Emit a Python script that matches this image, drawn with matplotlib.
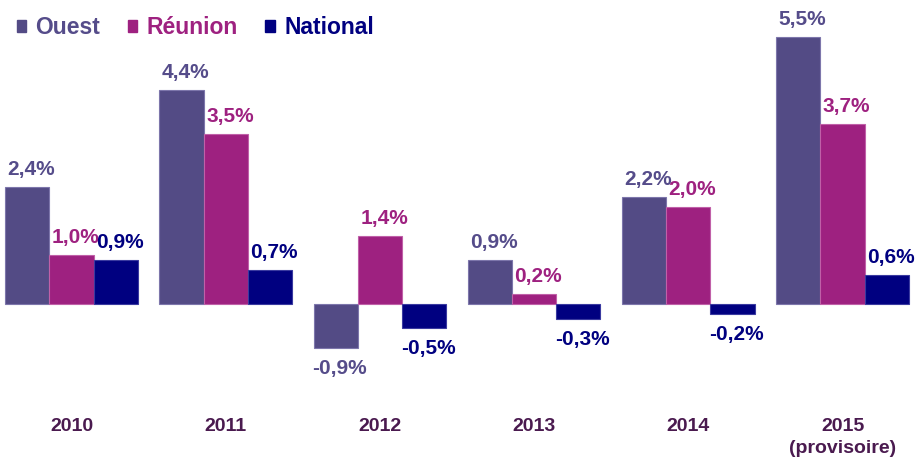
import matplotlib
matplotlib.use("Agg")
import matplotlib.pyplot as plt
from matplotlib.patches import Patch
import numpy as np

years = ["2010", "2011", "2012", "2013", "2014", "2015\n(provisoire)"]
ouest = [2.4, 4.4, -0.9, 0.9, 2.2, 5.5]
reunion = [1.0, 3.5, 1.4, 0.2, 2.0, 3.7]
national = [0.9, 0.7, -0.5, -0.3, -0.2, 0.6]

series = [
    ("Ouest", ouest, "#534b85", "#7d76ab", "#554c8a"),
    ("Réunion", reunion, "#9e2180", "#c060a8", "#9e2180"),
    ("National", national, "#000080", "#3a3aa0", "#000080"),
]

plt.rcParams["font.family"] = ["Liberation Sans", "DejaVu Sans"]

fig = plt.figure(figsize=(9.17, 4.63), dpi=100)
ax = fig.add_axes([0, 0, 1, 1])
ax.set_xlim(-0.4637, 5.483)
ax.set_ylim(-3.275, 6.262)
ax.axis("off")

x = np.arange(len(years))
width = 0.287
handles = []
for k, (name, vals, color, edge, tcolor) in enumerate(series):
    pos = x + (k - 1) * width
    ax.bar(pos, vals, width, color=color, edgecolor=edge, linewidth=0.8)
    for px, v in zip(pos, vals):
        label = f"{v:.1f}%".replace(".", ",")
        if v >= 0:
            ax.annotate(label, (px, v), xytext=(3, 6), textcoords="offset points",
                        ha="center", va="bottom", fontsize=15, fontweight="bold",
                        color=tcolor)
        else:
            ax.annotate(label, (px, v), xytext=(3, -8), textcoords="offset points",
                        ha="center", va="top", fontsize=15, fontweight="bold",
                        color=tcolor)
    handles.append(Patch(facecolor=color, edgecolor=color, label=name))

for i, y in enumerate(years):
    ax.text(i, -2.35, y, ha="center", va="top", fontsize=14, fontweight="bold",
            color="#4a1a4f", linespacing=1.35)

leg = ax.legend(handles=handles, loc="upper left", bbox_to_anchor=(0.008, 0.985),
                borderaxespad=0, ncol=3, frameon=False, handlelength=0.42,
                handleheight=0.42, handletextpad=0.4, columnspacing=1.2,
                prop={"weight": "bold", "size": 16.5})
for txt, s in zip(leg.get_texts(), series):
    txt.set_color(s[4])

fig.savefig("out.png", dpi=100)
